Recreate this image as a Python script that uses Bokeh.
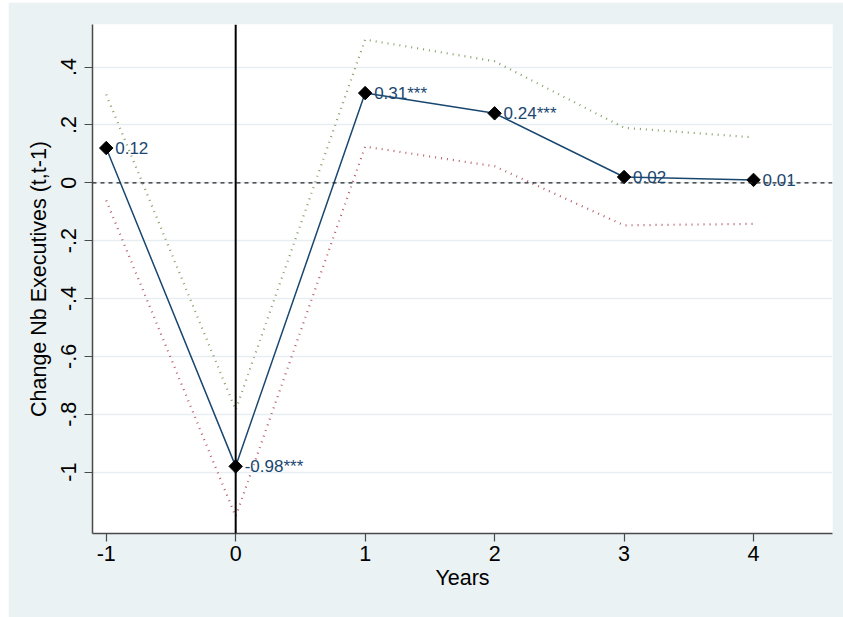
import numpy as np
from bokeh.plotting import figure
from bokeh.layouts import row, column
from bokeh.models import Range1d, FixedTicker, ColumnDataSource, Span, LabelSet, Spacer
from bokeh.core.properties import value
from bokeh.embed import file_html
from bokeh.resources import INLINE

years = [-1, 0, 1, 2, 3, 4]
coef = [0.12, -0.98, 0.31, 0.24, 0.02, 0.01]
upper_ci = [0.305, -0.785, 0.495, 0.42, 0.19, 0.157]
lower_ci = [-0.061, -1.153, 0.125, 0.057, -0.147, -0.142]
labels = ["0.12", "-0.98***", "0.31***", "0.24***", "0.02", "0.01"]

y_ticks = [0.4, 0.2, 0.0, -0.2, -0.4, -0.6, -0.8, -1.0]
y_tick_labels = [".4", ".2", "0", "-.2", "-.4", "-.6", "-.8", "-1"]
x_ticks = [-1, 0, 1, 2, 3, 4]
x_tick_labels = ["-1", "0", "1", "2", "3", "4"]

FONT = "Liberation Sans"
NAVY = "#1a476f"

p = figure(width=835, height=615, output_backend="svg", toolbar_location=None,
           x_range=Range1d(-1.106, 4.61), y_range=Range1d(-1.212, 0.547),
           min_border_left=84, min_border_right=11, min_border_top=22, min_border_bottom=84)
p.border_fill_color = "#eaf2f3"
p.background_fill_color = "white"
p.outline_line_color = None

# grid
p.xgrid.grid_line_color = None
p.ygrid.ticker = FixedTicker(ticks=y_ticks)
p.ygrid.grid_line_color = "#e6eef1"
p.ygrid.grid_line_width = 1.5

# axes
for ax in (p.xaxis[0], p.yaxis[0]):
    ax.axis_line_color = "#4a4a4a"
    ax.axis_line_width = 1.5
    ax.major_tick_line_color = "#4a4a4a"
    ax.major_tick_line_width = 1.2
    ax.major_tick_in = 0
    ax.major_tick_out = 8
    ax.minor_tick_line_color = None
    ax.major_label_text_font = FONT
    ax.major_label_text_font_size = "21.5px"
    ax.major_label_text_color = "black"
    ax.axis_label_text_font = FONT
    ax.axis_label_text_font_style = "normal"
    ax.axis_label_text_color = "black"

p.xaxis.ticker = FixedTicker(ticks=x_ticks)
p.xaxis.major_label_overrides = {t: l for t, l in zip(x_ticks, x_tick_labels)}
p.xaxis.axis_label = "Years"
p.xaxis.axis_label_text_font_size = "21.5px"
p.xaxis.axis_label_standoff = 2
p.xaxis.major_label_standoff = 4

p.yaxis.ticker = FixedTicker(ticks=y_ticks)
p.yaxis.major_label_overrides = {t: l for t, l in zip(y_ticks, y_tick_labels)}
p.yaxis.major_label_orientation = "vertical"
p.yaxis.axis_label = "Change Nb Executives (t,t-1)"
p.yaxis.axis_label_text_font_size = "21.5px"
p.yaxis.axis_label_standoff = 8
p.yaxis.major_label_standoff = 8

# reference lines
p.add_layout(Span(location=0, dimension="width", line_color="#222222",
                  line_width=1.2, line_dash="4 4"))
p.add_layout(Span(location=0, dimension="height", line_color="black", line_width=2))

src = ColumnDataSource(dict(x=years, y=coef, up=upper_ci, lo=lower_ci, lab=labels))

p.line("x", "up", source=src, line_color="#86a066", line_width=2.2, line_dash="1 5")
p.line("x", "lo", source=src, line_color="#b8606a", line_width=2.2, line_dash="1 5")
p.line("x", "y", source=src, line_color=NAVY, line_width=1.5)
p.scatter("x", "y", source=src, marker="square", angle=np.pi / 4, size=9.5,
          fill_color="black", line_color="black")

p.add_layout(LabelSet(x="x", y="y", text="lab", source=src, x_offset=9, y_offset=0,
                      text_font=value(FONT), text_font_size="17px", text_color=NAVY,
                      text_baseline="middle", text_align="left"))

layout = row(Spacer(width=8), column(Spacer(height=2), p))
open("out.html", "w").write(file_html(layout, INLINE))
